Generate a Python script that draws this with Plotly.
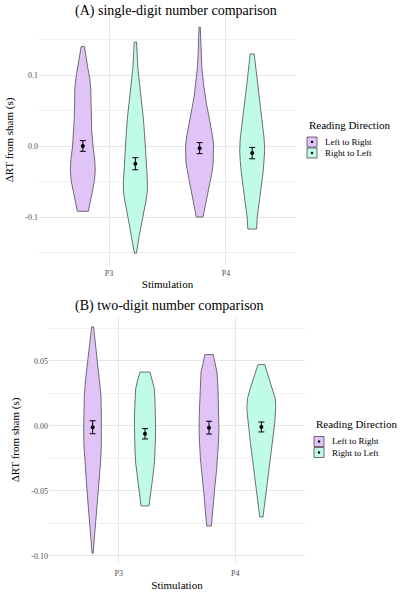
import numpy as np
import plotly.graph_objects as go

# ---------------- data ----------------
stimulation = ["P3", "P4"]
directions = ["Left to Right", "Right to Left"]

# Panel A (single-digit) violin outlines: y values and relative density widths
a_p3_ltr_y = [0.140, 0.125, 0.110, 0.095, 0.080, 0.060, 0.040, 0.020, 0.000, -0.020, -0.035, -0.050, -0.065, -0.080, -0.092]
a_p3_ltr_d = [3.3, 6.0, 10.0, 14.0, 16.0, 16.5, 17.0, 18.0, 20.5, 24.0, 25.0, 23.0, 19.0, 14.5, 11.0]
a_p3_rtl_y = [0.1465, 0.130, 0.110, 0.090, 0.072, 0.055, 0.039, 0.020, 0.002, -0.020, -0.035, -0.050, -0.063, -0.078, -0.092, -0.105, -0.115, -0.127, -0.139, -0.151]
a_p3_rtl_d = [2.3, 3.5, 5.0, 8.0, 11.0, 13.5, 16.0, 18.0, 20.0, 22.0, 23.0, 24.0, 24.0, 21.0, 17.0, 13.0, 10.0, 7.5, 5.0, 2.0]
a_p4_ltr_y = [0.1676, 0.150, 0.133, 0.110, 0.086, 0.070, 0.058, 0.044, 0.030, 0.015, 0.002, -0.012, -0.026, -0.040, -0.054, -0.068, -0.083, -0.092, -0.100]
a_p4_ltr_d = [1.3, 2.0, 2.7, 4.5, 8.0, 11.0, 14.0, 18.0, 22.0, 25.5, 28.0, 28.0, 27.0, 24.0, 20.0, 16.0, 12.0, 9.0, 6.7]
a_p4_rtl_y = [0.1296, 0.118, 0.105, 0.085, 0.068, 0.050, 0.030, 0.010, -0.0075, -0.020, -0.036, -0.055, -0.073, -0.088, -0.101, -0.117]
a_p4_rtl_d = [4.0, 6.0, 8.0, 11.0, 14.0, 17.5, 21.0, 24.0, 25.0, 24.0, 22.0, 18.5, 15.0, 12.5, 10.0, 8.7]

a_mean_ltr = [0.000, -0.003]
a_se_ltr = [0.0075, 0.0078]
a_mean_rtl = [-0.025, -0.010]
a_se_rtl = [0.0085, 0.008]

# Panel B (two-digit)
b_p3_ltr_y = [0.0762, 0.062, 0.049, 0.0364, 0.0236, 0.010, -0.002, -0.015, -0.0277, -0.0456, -0.066, -0.0867, -0.098]
b_p3_ltr_d = [2.0, 6.0, 10.0, 14.0, 16.7, 17.5, 18.0, 17.5, 16.0, 12.0, 8.0, 4.0, 1.0]
b_p3_rtl_y = [0.0415, 0.035, 0.0287, 0.020, 0.0108, 0.000, -0.0098, -0.020, -0.0277, -0.037, -0.0456, -0.056, -0.0615]
b_p3_rtl_d = [10.0, 15.0, 18.7, 20.0, 21.0, 21.3, 21.0, 20.0, 19.0, 16.5, 14.0, 10.0, 8.0]
b_p4_ltr_y = [0.0549, 0.048, 0.0415, 0.030, 0.021, 0.010, -0.002, -0.013, -0.025, -0.035, -0.0456, -0.053, -0.061, -0.069, -0.077]
b_p4_ltr_d = [8.3, 12.0, 16.0, 18.0, 18.7, 19.5, 20.0, 19.0, 17.3, 15.0, 12.0, 10.0, 8.0, 6.0, 4.7]
b_p4_rtl_y = [0.0472, 0.042, 0.0364, 0.028, 0.021, 0.015, 0.0108, 0.003, -0.0046, -0.015, -0.025, -0.035, -0.0456, -0.053, -0.061, -0.070]
b_p4_rtl_d = [6.7, 11.0, 16.0, 23.0, 28.0, 29.0, 28.7, 27.0, 24.7, 21.5, 18.0, 14.5, 11.3, 8.5, 6.0, 3.3]

b_mean_ltr = [-0.001, -0.0013]
b_se_ltr = [0.005, 0.0049]
b_mean_rtl = [-0.006, -0.0008]
b_se_rtl = [0.004, 0.0038]

a_yticks = [-0.1, 0.0, 0.1]
a_yticklabels = ["-0.1", "0.0", "0.1"]
a_yminor = [-0.15, -0.05, 0.05, 0.15]
b_yticks = [-0.10, -0.05, 0.0, 0.05]
b_yticklabels = ["-0.10", "-0.05", "0.00", "0.05"]
b_yminor = [-0.075, -0.025, 0.025, 0.075]

# ---------------- style ----------------
W, H = 400, 592
FONT = "Liberation Serif"
COL = {"Left to Right": "#E0C4F7", "Right to Left": "#C0FBE9"}
OUTLINE = "#4D4D4D"
DODGE = 0.225
WIDTH_SCALE = 1.0 / 117.0  # density units -> axis units (full width)
cats = np.arange(1, len(stimulation) + 1)


def px2x(px):
    return px / W


def px2y(py):
    return 1 - py / H


fig = go.Figure()


def add_violin(center, yv, dv, direction, xa, ya):
    yv = np.asarray(yv, float)
    hw = np.asarray(dv, float) * WIDTH_SCALE / 2
    xs = np.concatenate([center + hw, (center - hw)[::-1], [center + hw[0]]])
    ys = np.concatenate([yv, yv[::-1], [yv[0]]])
    fig.add_trace(go.Scatter(x=xs, y=ys, mode="lines", fill="toself",
                             fillcolor=COL[direction],
                             line=dict(color=OUTLINE, width=0.8),
                             xaxis=xa, yaxis=ya, showlegend=False, hoverinfo="skip"))


def add_means(xpos, means, ses, xa, ya):
    fig.add_trace(go.Scatter(x=xpos, y=means, mode="markers",
                             marker=dict(color="black", size=4),
                             error_y=dict(type="data", array=ses, width=3, thickness=1, color="black"),
                             xaxis=xa, yaxis=ya, showlegend=False))


# Panel A
add_violin(cats[0] - DODGE, a_p3_ltr_y, a_p3_ltr_d, "Left to Right", "x", "y")
add_violin(cats[0] + DODGE, a_p3_rtl_y, a_p3_rtl_d, "Right to Left", "x", "y")
add_violin(cats[1] - DODGE, a_p4_ltr_y, a_p4_ltr_d, "Left to Right", "x", "y")
add_violin(cats[1] + DODGE, a_p4_rtl_y, a_p4_rtl_d, "Right to Left", "x", "y")
add_means(cats - DODGE, a_mean_ltr, a_se_ltr, "x", "y")
add_means(cats + DODGE, a_mean_rtl, a_se_rtl, "x", "y")

# Panel B
add_violin(cats[0] - DODGE, b_p3_ltr_y, b_p3_ltr_d, "Left to Right", "x2", "y2")
add_violin(cats[0] + DODGE, b_p3_rtl_y, b_p3_rtl_d, "Right to Left", "x2", "y2")
add_violin(cats[1] - DODGE, b_p4_ltr_y, b_p4_ltr_d, "Left to Right", "x2", "y2")
add_violin(cats[1] + DODGE, b_p4_rtl_y, b_p4_rtl_d, "Right to Left", "x2", "y2")
add_means(cats - DODGE, b_mean_ltr, b_se_ltr, "x2", "y2")
add_means(cats + DODGE, b_mean_rtl, b_se_rtl, "x2", "y2")

GRID = "#E6E6E6"
MINOR = "#F0F0F0"
tickfont = dict(family=FONT, size=8, color="#4D4D4D")
titlefont = dict(family=FONT, size=11, color="black")


def xaxis_cfg(left, right, anchor, tstand, standoff):
    return dict(domain=[px2x(left), px2x(right)], range=[0.4, 2.6], anchor=anchor,
                tickmode="array", tickvals=list(cats), ticktext=stimulation,
                showgrid=True, gridcolor=GRID, gridwidth=1, zeroline=False,
                showline=False, ticks="", tickfont=tickfont, automargin=False,
                ticklabelstandoff=tstand,
                title=dict(text="Stimulation", font=titlefont, standoff=standoff))


def yaxis_cfg(top, bottom, rng, tv, tt, minor, anchor):
    return dict(domain=[px2y(bottom), px2y(top)], range=rng, anchor=anchor,
                tickmode="array", tickvals=tv, ticktext=tt,
                showgrid=True, gridcolor=GRID, gridwidth=1, zeroline=False,
                showline=False, ticks="", tickfont=tickfont, automargin=False,
                minor=dict(tickmode="array", tickvals=minor, showgrid=True,
                           gridcolor=MINOR, gridwidth=1, ticks=""),
                title=dict(text="ΔRT from sham (s)", font=titlefont, standoff=9))


fig.update_layout(
    width=W, height=H, margin=dict(l=0, r=0, t=0, b=0),
    paper_bgcolor="white", plot_bgcolor="white",
    font=dict(family=FONT),
    showlegend=False,
    xaxis=xaxis_cfg(39, 296, "y", 2, 3),
    yaxis=yaxis_cfg(15, 265, [-0.1676, 0.1845], a_yticks, a_yticklabels, a_yminor, "x"),
    xaxis2=xaxis_cfg(49, 305, "y2", 4, 4),
    yaxis2=yaxis_cfg(317, 563, [-0.1054, 0.0838], b_yticks, b_yticklabels, b_yminor, "x2"),
)

annotations = []
shapes = []
# panel titles
annotations.append(dict(text="(A) single-digit number comparison", x=px2x(73), y=px2y(11),
                        xref="paper", yref="paper", xanchor="left", yanchor="middle",
                        showarrow=False, font=dict(family=FONT, size=14, color="black")))
annotations.append(dict(text="(B) two-digit number comparison", x=px2x(73), y=px2y(306),
                        xref="paper", yref="paper", xanchor="left", yanchor="middle",
                        showarrow=False, font=dict(family=FONT, size=14, color="black")))


# legends (drawn manually to match ggplot key spacing)
def add_legend(x0, ytitle, yrows):
    annotations.append(dict(text="Reading Direction", x=px2x(x0), y=px2y(ytitle),
                            xref="paper", yref="paper", xanchor="left", yanchor="middle",
                            showarrow=False, font=dict(family=FONT, size=11, color="black")))
    for d, yr in zip(directions, yrows):
        shapes.append(dict(type="rect", xref="paper", yref="paper",
                           x0=px2x(x0), x1=px2x(x0 + 10), y0=px2y(yr + 5), y1=px2y(yr - 5),
                           fillcolor=COL[d], line=dict(color=OUTLINE, width=0.8)))
        shapes.append(dict(type="circle", xref="paper", yref="paper",
                           x0=px2x(x0 + 3.8), x1=px2x(x0 + 6.2), y0=px2y(yr + 1.2), y1=px2y(yr - 1.2),
                           fillcolor="black", line=dict(color="black", width=0)))
        annotations.append(dict(text=d, x=px2x(x0 + 16), y=px2y(yr),
                                xref="paper", yref="paper", xanchor="left", yanchor="middle",
                                showarrow=False, font=dict(family=FONT, size=9, color="black")))


add_legend(307, 125, [142, 153])
add_legend(314, 424, [441.5, 452.5])

fig.update_layout(annotations=annotations, shapes=shapes)
fig.write_html("out.html")
